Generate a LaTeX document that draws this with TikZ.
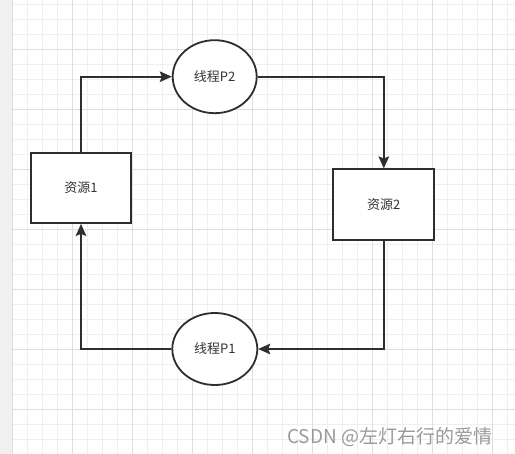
\documentclass[tikz,border=0pt]{standalone}
\usepackage{fontspec}
\setmainfont{Noto Sans CJK SC}
\usetikzlibrary{shapes.geometric,arrows.meta}
\definecolor{strokec}{HTML}{2E2E2E}
\definecolor{textc}{HTML}{333333}
\definecolor{minorgrid}{HTML}{EFEFEF}
\definecolor{majorgrid}{HTML}{DEDEDE}
\definecolor{stripc}{HTML}{F0F0F0}
\definecolor{wmark}{HTML}{9A9A9A}
\tikzset{
  boxnode/.style={draw=strokec, line width=1.8pt, fill=white, rectangle, inner sep=0pt,
    minimum width=100pt, minimum height=70pt, text=textc, font=\fontsize{13pt}{15pt}\selectfont},
  threadnode/.style={draw=strokec, line width=1.8pt, fill=white, ellipse, inner sep=0pt,
    minimum width=84pt, minimum height=72pt, text=textc, font=\fontsize{13pt}{15pt}\selectfont},
  conn/.style={draw=strokec, line width=1.8pt, -{Stealth[length=12pt,width=10.5pt,inset=2pt]}},
}
\begin{document}
\begin{tikzpicture}[x=1pt,y=-1pt]
\useasboundingbox (0,0) rectangle (515,454);
\fill[white] (0,0) rectangle (515,454);
% grid
\foreach \i in {0,...,34} {
  \draw[minorgrid, line width=0.9pt] ({12.7+15*\i},0) -- ({12.7+15*\i},454);
}
\foreach \j in {0,...,30} {
  \draw[minorgrid, line width=0.9pt] (0,{4.3+15*\j}) -- (515,{4.3+15*\j});
}
\foreach \i in {0,...,8} {
  \draw[majorgrid, line width=0.9pt] ({12.7+60*\i},0) -- ({12.7+60*\i},454);
}
\foreach \j in {0,...,7} {
  \draw[majorgrid, line width=0.9pt] (0,{49.3+60*\j}) -- (515,{49.3+60*\j});
}
\fill[stripc] (0,0) rectangle (12.2,454);
% nodes
\node[boxnode] (r1) at (81,188) {资源1};
\node[boxnode, minimum width=101pt, minimum height=70.7pt] (r2) at (383.8,204.7) {资源2};
\node[threadnode, minimum height=73pt] (p2) at (214.7,76.7) {线程P2};
\node[threadnode, minimum width=85pt] (p1) at (214.8,349) {线程P1};
% connectors
\draw[conn] (r1.north) |- (p2.west);
\draw[conn] (p2.east) -| (r2.north);
\draw[conn] (r2.south) |- (p1.east);
\draw[conn] (p1.west) -| (r1.south);
% watermark
\node[anchor=base west, inner sep=0pt, text=wmark, font=\fontsize{19pt}{21pt}\selectfont] (wm) at (287,444) {CSDN @左灯右行的爱情};
\end{tikzpicture}
\end{document}
